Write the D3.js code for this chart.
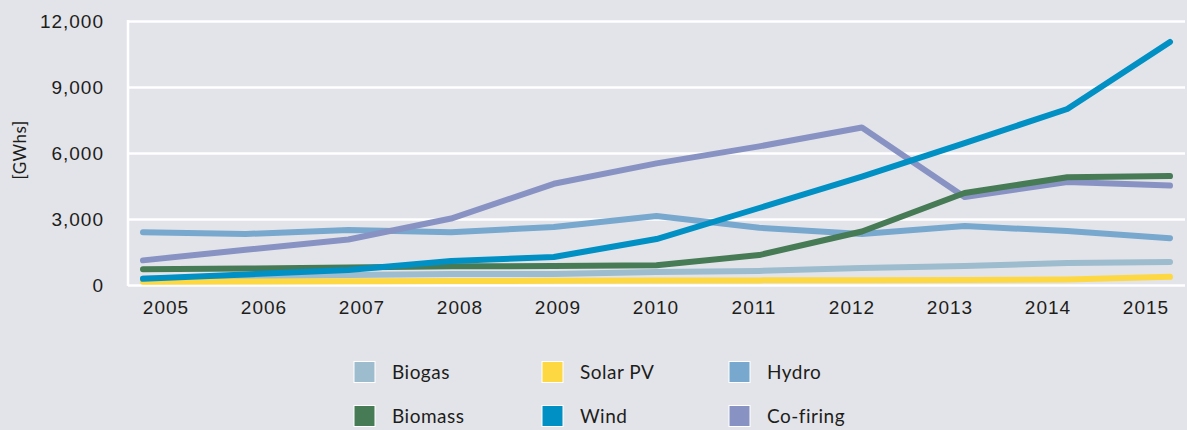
<!DOCTYPE html>
<html>
<head>
<meta charset="utf-8">
<script src="https://cdn.jsdelivr.net/npm/d3@7"></script>
<style>
  body { margin: 0; background: #e3e4e9; }
  svg { display: block; font-family: Lato, "Open Sans", sans-serif; }
  .tick text { fill: #1d1d1b; font-size: 19px; letter-spacing: 1px; }
</style>
</head>
<body>
<script>
//Data
var years = [2005, 2006, 2007, 2008, 2009, 2010, 2011, 2012, 2013, 2014, 2015];
var biogas   = [300, 380, 450, 500, 500, 590, 640, 770, 860, 1000, 1050];
var solarPV  = [150, 160, 170, 180, 190, 200, 210, 220, 230, 250, 370];
var hydro    = [2400, 2320, 2500, 2400, 2640, 3140, 2600, 2320, 2680, 2450, 2130];
var biomass  = [720, 750, 800, 850, 860, 900, 1360, 2430, 4180, 4900, 4950];
var wind     = [280, 480, 680, 1090, 1270, 2090, 3500, 4930, 6450, 8000, 11050];
var cofiring = [1120, 1600, 2070, 3020, 4600, 5530, 6300, 7160, 4000, 4680, 4520];
var yTicks = [0, 3000, 6000, 9000, 12000];

var series = [
  {name: "Biogas", values: biogas, color: "#9dbccd"},
  {name: "Solar PV", values: solarPV, color: "#fdd843"},
  {name: "Hydro", values: hydro, color: "#78a8ce"},
  {name: "Biomass", values: biomass, color: "#477b56"},
  {name: "Wind", values: wind, color: "#0090c4"},
  {name: "Co-firing", values: cofiring, color: "#8893c3"}
];
//drawing order differs from legend order
var drawOrder = ["Biogas", "Solar PV", "Hydro", "Co-firing", "Biomass", "Wind"];

//Size
var width = 1187, height = 430;
var plot = {left: 128, right: 1185, top: 21, bottom: 285};

var svg = d3.select("body").append("svg")
    .attr("width", width)
    .attr("height", height);

//Scales
var x = d3.scalePoint()
    .domain(years)
    .range([143, 1170]);

var xLabels = d3.scaleBand()
    .domain(years)
    .range([117, 1195]);

var y = d3.scaleLinear()
    .domain([0, 12000])
    .range([plot.bottom, plot.top]);

//Gridlines
var grid = svg.append("g")
    .attr("transform", "translate(" + plot.left + ",0)")
    .call(d3.axisLeft(y).tickValues(yTicks).tickSize(-(plot.right - plot.left)).tickFormat(""));
grid.select(".domain").remove();
grid.selectAll("line").attr("stroke", "#fff").attr("stroke-width", 2.5);

//Left border
svg.append("line")
    .attr("x1", plot.left).attr("x2", plot.left)
    .attr("y1", plot.top - 1).attr("y2", plot.bottom + 1)
    .attr("stroke", "#fff").attr("stroke-width", 2.5);

//Y labels
var yAxis = svg.append("g")
    .attr("transform", "translate(104,0)")
    .call(d3.axisLeft(y).tickValues(yTicks).tickSize(0).tickPadding(0).tickFormat(d3.format(",")));
yAxis.select(".domain").remove();

svg.append("text")
    .attr("transform", "translate(26,150) rotate(-90)")
    .attr("text-anchor", "middle")
    .attr("fill", "#1d1d1b")
    .attr("font-size", "17px")
    .attr("letter-spacing", "0.5px")
    .text("[GWhs]");

//X labels
var xAxis = svg.append("g")
    .attr("transform", "translate(0,300)")
    .call(d3.axisBottom(xLabels).tickSize(0).tickPadding(0));
xAxis.select(".domain").remove();
xAxis.selectAll("text").attr("dy", "0.75em");

//Lines
var line = d3.line()
    .x(function(d, i) { return x(years[i]); })
    .y(function(d) { return y(d); });

svg.append("g").selectAll("path")
    .data(drawOrder.map(function(n) { return series.find(function(s) { return s.name == n; }); }))
    .enter().append("path")
    .attr("d", function(d) { return line(d.values); })
    .attr("fill", "none")
    .attr("stroke", function(d) { return d.color; })
    .attr("stroke-width", 6)
    .attr("stroke-linecap", "round")
    .attr("stroke-linejoin", "round");

//Legend
var legendX = [354, 542, 729];
var legendY = [372, 416];
var legend = svg.append("g").selectAll("g")
    .data(series)
    .enter().append("g")
    .attr("transform", function(d, i) {
      return "translate(" + legendX[i % 3] + "," + legendY[Math.floor(i / 3)] + ")";
    });

legend.append("rect")
    .attr("x", 0).attr("y", -10.5)
    .attr("width", 21).attr("height", 21)
    .attr("fill", function(d) { return d.color; })
    .attr("stroke", "#fff")
    .attr("stroke-width", 1);

legend.append("text")
    .attr("x", 38)
    .attr("dy", "0.35em")
    .attr("fill", "#1d1d1b")
    .attr("font-size", "19px")
    .attr("letter-spacing", "0.5px")
    .text(function(d) { return d.name; });
</script>
</body>
</html>
